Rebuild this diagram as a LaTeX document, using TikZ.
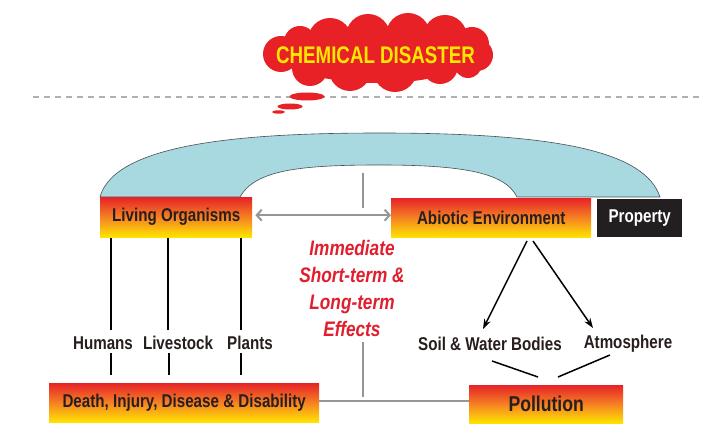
\documentclass[tikz,border=0pt]{standalone}
\usepackage{fontspec}
\setmainfont{Liberation Sans}[FakeStretch=0.82]
\newfontfamily\titlefont{Liberation Sans}[FakeStretch=0.78]
\usetikzlibrary{arrows.meta}
\definecolor{boxred}{RGB}{230,35,40}
\definecolor{boxorange}{RGB}{245,130,35}
\definecolor{boxyellow}{RGB}{255,228,0}
\definecolor{cloudred}{RGB}{232,33,39}
\definecolor{cloudyellow}{RGB}{255,232,0}
\definecolor{arcblue}{RGB}{168,216,224}
\definecolor{arcline}{RGB}{70,80,85}
\definecolor{txtdark}{RGB}{40,30,30}
\definecolor{effred}{RGB}{225,30,45}
\definecolor{linegray}{RGB}{150,150,150}
\definecolor{propblack}{RGB}{35,31,32}
\begin{document}
\begin{tikzpicture}[x=1pt,y=-1pt,
  hotbox/.style={rectangle, anchor=north west, inner sep=0pt,
    top color=boxred, bottom color=boxyellow, middle color=boxorange,
    text=txtdark, font=\bfseries\fontsize{18.5}{20}\selectfont},
  lbl/.style={inner sep=0pt, text=txtdark, font=\bfseries\fontsize{18.5}{20}\selectfont},
  blk/.style={line width=2pt, black},
  grayln/.style={line width=2pt, linegray},
  bubble/.style={fill=cloudred, draw=none}]
\useasboundingbox (0,0) rectangle (711,435);
\fill[white] (0,0) rectangle (711,435);

% title cloud (union of puffs)
\fill[cloudred]
  (378,55) ellipse [x radius=95, y radius=28]
  (300,42) circle [radius=16]
  (330,40) circle [radius=22]
  (368,36) circle [radius=22]
  (408,35) circle [radius=22]
  (445,37) circle [radius=22]
  (472,44) circle [radius=17]
  (281,54) circle [radius=18]
  (477,55) circle [radius=16]
  (310,68) circle [radius=18]
  (350,70) circle [radius=21]
  (395,70) circle [radius=22]
  (440,66) circle [radius=18]
  (468,64) circle [radius=14];
\node[inner sep=0pt, text=cloudyellow, font=\titlefont\bfseries\fontsize{24}{26}\selectfont] (title) at (375.5,55) {CHEMICAL DISASTER};

% dashed separator
\coordinate (dl) at (33,97);
\coordinate (dr) at (702,97);
\draw[line width=2.5pt, linegray!75, dash pattern=on 6pt off 5pt] (dl) -- (dr);

% thought bubbles
\fill[bubble] (307,96.5) ellipse [x radius=17.5, y radius=4];
\fill[bubble] (290,106.5) ellipse [x radius=12.5, y radius=3];
\fill[bubble] (278.5,112) ellipse [x radius=6.5, y radius=1.7];

% arc band
\filldraw[fill=arcblue, draw=arcline, line width=0.6pt]
  (100,197) .. controls (115,142) and (250,133) .. (380,133)
  .. controls (560,133) and (645,152) .. (660,197)
  -- (517,197) .. controls (505,172) and (460,165) .. (380,165)
  .. controls (300,165) and (255,170) .. (240,197) -- cycle;

% boxes
\node[hotbox, minimum width=152pt, minimum height=40pt] (living) at (100,197) {Living Organisms};
\node[hotbox, minimum width=200pt, minimum height=39pt] (abiotic) at (391,198) {Abiotic Environment};
\node[rectangle, anchor=north west, inner sep=0pt, fill=propblack, text=white,
  font=\bfseries\fontsize{18.5}{20}\selectfont, minimum width=85pt, minimum height=38pt] (property) at (597,199) {Property};
\node[hotbox, minimum width=270pt, minimum height=39pt] (death) at (49,383) {Death, Injury, Disease \& Disability};
\node[hotbox, minimum width=154pt, minimum height=38pt, font=\bfseries\fontsize{21.5}{23}\selectfont] (pollution) at (469,385) {Pollution};

% double arrow
\draw[grayln, {Straight Barb[length=5pt,width=11pt]}-{Straight Barb[length=5pt,width=11pt]}]
  (living.east) ++(3,-2) coordinate (la) -- (abiotic.west |- la);

% vertical gray line
\coordinate (g1) at (363,173);
\coordinate (g2) at (363,208);
\coordinate (g3) at (363,342);
\coordinate (g4) at (363,397);
\draw[grayln] (g1) -- (g2);
\draw[grayln] (g3) -- (g4);

% effects text
\node[align=center, inner sep=0pt, text=effred, font=\bfseries\itshape\fontsize{21}{27}\selectfont] (effects) at (352,288)
  {Immediate\\Short-term \&\\Long-term\\Effects};

% living organism branches
\node[lbl] (humans) at (103,343) {Humans};
\node[lbl] (livestock) at (178,343) {Livestock};
\node[lbl] (plants) at (250,343) {Plants};
\coordinate (h1) at (111,238); \coordinate (h2) at (111,330);
\coordinate (l1) at (168,238); \coordinate (l2) at (168,330);
\coordinate (p1) at (241,238); \coordinate (p2) at (241,330);
\coordinate (h3) at (111,353); \coordinate (h4) at (111,375);
\coordinate (l3) at (169,353); \coordinate (l4) at (169,375);
\coordinate (p3) at (241,353); \coordinate (p4) at (241,375);
\draw[blk] (h1) -- (h2); \draw[blk] (l1) -- (l2); \draw[blk] (p1) -- (p2);
\draw[blk] (h3) -- (h4); \draw[blk] (l3) -- (l4); \draw[blk] (p3) -- (p4);

% abiotic branches
\node[lbl] (soil) at (490,344) {Soil \& Water Bodies};
\node[lbl] (atmos) at (628,344) {Atmosphere};
\coordinate (a1) at (527,241); \coordinate (a2) at (483,329);
\coordinate (a3) at (533,241); \coordinate (a4) at (593,328);
\draw[line width=1.5pt, black, -{Stealth[length=10pt,width=7pt]}] (a1) -- (a2);
\draw[line width=1.5pt, black, -{Stealth[length=10pt,width=7pt]}] (a3) -- (a4);
\coordinate (s1) at (492,361); \coordinate (s2) at (538,377);
\coordinate (t1) at (610,355); \coordinate (t2) at (558,377);
\draw[line width=1.5pt, black] (s1) -- (s2);
\draw[line width=1.5pt, black] (t1) -- (t2);

% bottom connector
\draw[grayln] (death.east |- 0,401) -- (pollution.west |- 0,401);
\end{tikzpicture}
\end{document}
